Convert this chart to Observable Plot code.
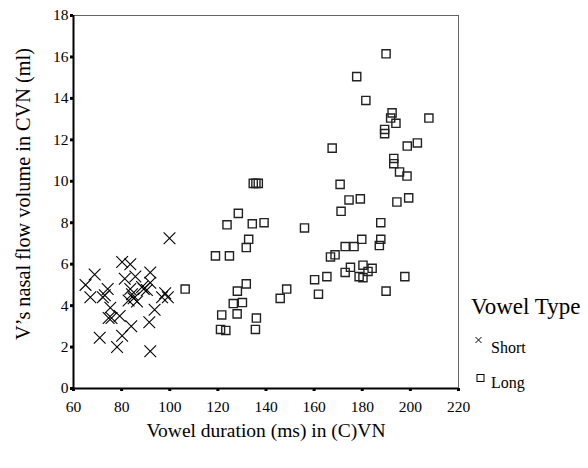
<!DOCTYPE html>
<html><head><meta charset="utf-8">
<script src="https://cdn.jsdelivr.net/npm/d3@7"></script>
<script src="https://cdn.jsdelivr.net/npm/@observablehq/plot@0.6"></script>
<style>
body{margin:0;background:#fff;}
#wrap{position:relative;width:588px;height:468px;font-family:"Liberation Serif","DejaVu Serif",serif;color:#000;}
#wrap svg text{font-family:"Liberation Serif","DejaVu Serif",serif;}
#wrap svg g[aria-label="x-axis label"] text{font-size:19.5px;}
#wrap svg g[aria-label="y-axis label"] text{font-size:20.3px;}
#legend{position:absolute;left:0;top:0;pointer-events:none;overflow:visible;}
#legend text{fill:#000;}
</style></head><body><div id="wrap"></div>
<script>
const shortDuration = [65.0, 68.8, 67.0, 72.2, 73.0, 74.2, 75.3, 74.6, 75.8, 79.2, 84.0, 80.2, 70.9, 78.1, 80.2, 83.6, 81.3, 99.9, 85.7, 91.9, 91.9, 83.6, 84.3, 85.0, 86.4, 82.9, 89.2, 90.5, 98.1, 96.8, 99.2, 93.7, 91.5, 91.9, 88.5];
const shortVolume   = [5.0, 5.5, 4.4, 4.4, 4.5, 4.8, 3.9, 3.4, 3.4, 3.5, 3.0, 2.55, 2.45, 2.0, 6.1, 6.0, 5.3, 7.25, 5.4, 5.6, 5.1, 4.8, 4.55, 4.35, 4.2, 4.25, 4.8, 4.75, 4.6, 4.4, 4.4, 3.8, 3.2, 1.8, 4.9];
const longDuration = [106.4, 119.0, 121.1, 121.6, 123.3, 123.8, 124.8, 126.4, 128.0, 128.1, 128.5, 130.2, 131.8, 131.8, 132.8, 134.3, 134.7, 135.8, 136.8, 135.6, 136.0, 139.2, 145.9, 148.6, 156.0, 160.2, 161.8, 165.3, 166.8, 167.5, 168.7, 170.8, 171.2, 172.9, 172.9, 174.5, 175.1, 176.6, 177.7, 178.7, 179.2, 179.8, 180.3, 180.3, 181.5, 182.4, 184.1, 187.1, 187.7, 187.7, 189.3, 189.3, 189.9, 189.9, 191.8, 192.4, 193.1, 193.1, 194.0, 194.4, 195.5, 197.7, 198.6, 198.7, 199.3, 202.9, 207.7];
const longVolume   = [4.8, 6.4, 2.85, 3.55, 2.8, 7.9, 6.4, 4.1, 3.6, 4.7, 8.45, 4.15, 5.05, 6.8, 7.2, 7.95, 9.9, 9.9, 9.9, 2.85, 3.4, 8.0, 4.35, 4.8, 7.75, 5.25, 4.55, 5.4, 6.35, 11.6, 6.45, 9.85, 8.55, 5.6, 6.85, 9.1, 5.85, 6.85, 15.05, 5.4, 9.15, 7.2, 5.95, 5.35, 13.9, 5.65, 5.8, 6.9, 7.2, 8.0, 12.5, 12.3, 16.15, 4.7, 13.05, 13.3, 11.1, 10.85, 12.8, 9.0, 10.45, 5.4, 10.25, 11.7, 9.2, 11.85, 13.05];
const xTicks = [60, 80, 100, 120, 140, 160, 180, 200, 220];
const yTicks = [0, 2, 4, 6, 8, 10, 12, 14, 16, 18];
const seriesNames = ["Short", "Long"];
const legendTitle = "Vowel Type";

const shortData = shortDuration.map((d, i) => ({duration: d, volume: shortVolume[i]}));
const longData = longDuration.map((d, i) => ({duration: d, volume: longVolume[i]}));

const chart = Plot.plot({
  width: 588, height: 468,
  marginLeft: 73, marginRight: 130, marginTop: 15, marginBottom: 80,
  style: {fontFamily: "'Liberation Serif', 'DejaVu Serif', serif", fontSize: "15.5px", background: "white", color: "black", overflow: "visible"},
  x: {domain: [60, 220]},
  y: {domain: [0, 18]},
  marks: [
    Plot.frame({stroke: "#666", strokeWidth: 1}),
    Plot.dot(shortData, {x: "duration", y: "volume", symbol: "times", r: 5.4, stroke: "black", strokeWidth: 1.1}),
    Plot.dot(longData, {x: "duration", y: "volume", symbol: "square", r: 4.6, stroke: "#222", strokeWidth: 1.4, fill: "none"}),
    Plot.ruleX([60], {stroke: "black", strokeWidth: 2}),
    Plot.ruleY([0], {stroke: "black", strokeWidth: 2}),
    Plot.axisX({ticks: xTicks, tickSize: 3, strokeWidth: 3, tickPadding: 9, tickFormat: d => String(d),
      label: "Vowel duration (ms) in (C)VN", labelAnchor: "center", labelArrow: "none", labelOffset: 48, fill: "black"}),
    Plot.axisY({ticks: yTicks, tickSize: 3, strokeWidth: 3, tickPadding: 2, tickFormat: d => String(d),
      label: "V\u2019s nasal flow volume in CVN (ml)", labelAnchor: "center", labelArrow: "none", labelOffset: 58, fill: "black"})
  ]
});
const wrap = document.getElementById("wrap");
wrap.appendChild(chart);

// nudge the y-axis title upward, as in the reference
const yLab = chart.querySelector('g[aria-label="y-axis label"]');
if (yLab) yLab.setAttribute("transform", ((yLab.getAttribute("transform") || "") + " translate(0,-8)").trim());

// legend overlay
const ns = "http://www.w3.org/2000/svg";
const lg = document.createElementNS(ns, "svg");
lg.id = "legend";
lg.setAttribute("width", 588);
lg.setAttribute("height", 468);
lg.style.fontFamily = "'Liberation Serif', 'DejaVu Serif', serif";
function el(tag, attrs, text) {
  const e = document.createElementNS(ns, tag);
  for (const k in attrs) e.setAttribute(k, attrs[k]);
  if (text != null) e.textContent = text;
  lg.appendChild(e);
  return e;
}
el("text", {x: 471, y: 314, "font-size": 23}, legendTitle);
const rows = [
  {name: seriesNames[0], cy: 340, base: 353},
  {name: seriesNames[1], cy: 378, base: 388}
];
rows.forEach((row, i) => {
  if (i === 0) {
    el("path", {d: `M475.5,${row.cy - 3}L481.5,${row.cy + 3}M481.5,${row.cy - 3}L475.5,${row.cy + 3}`, stroke: "black", "stroke-width": 1, fill: "none"});
  } else {
    el("rect", {x: 477, y: row.cy - 3.5, width: 7, height: 7, stroke: "black", "stroke-width": 1, fill: "none"});
  }
  el("text", {x: 491, y: row.base, "font-size": 16}, row.name);
});
wrap.appendChild(lg);
</script>
</body></html>
